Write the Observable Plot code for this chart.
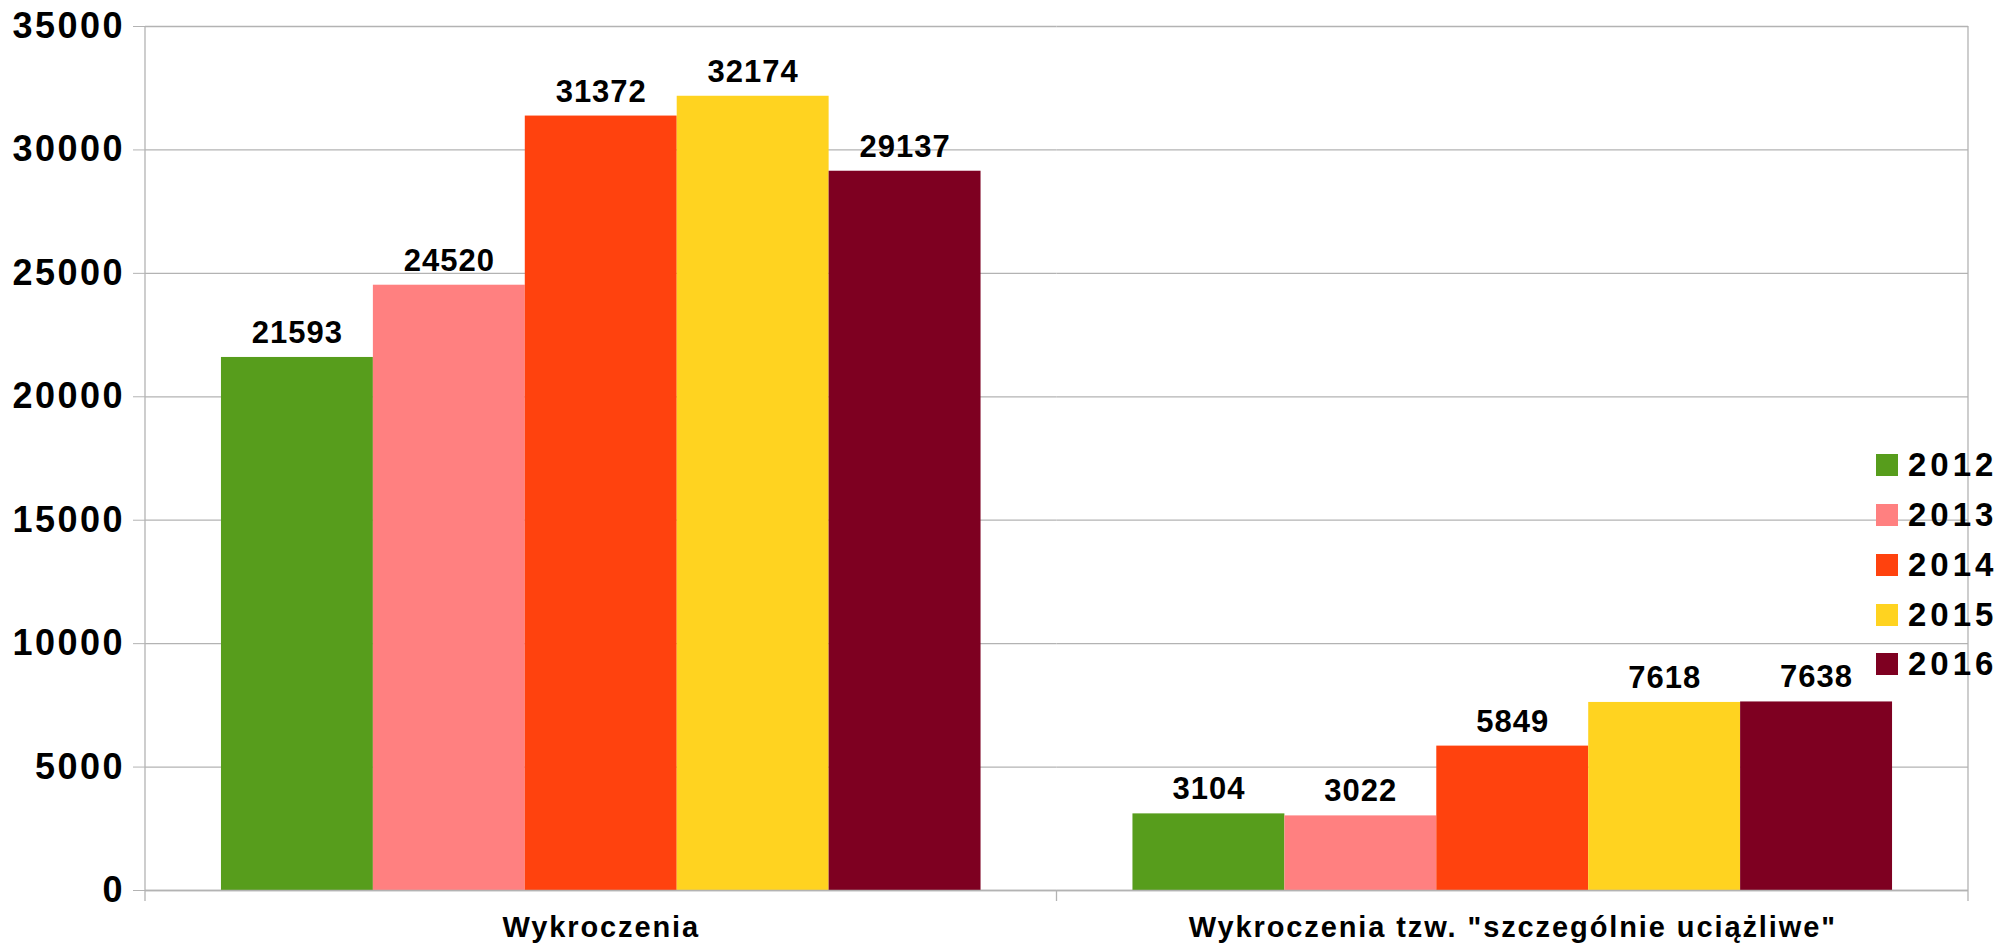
<!DOCTYPE html>
<html><head><meta charset="utf-8">
<script src="https://cdn.jsdelivr.net/npm/d3@7"></script>
<script src="https://cdn.jsdelivr.net/npm/@observablehq/plot@0.6"></script>
<style>
body{margin:0;background:#fff;font-family:"Liberation Sans",Arial,sans-serif}
#wrap{position:relative;width:1999px;height:944px;overflow:hidden}
.item{position:absolute;left:1876px;height:34px;display:flex;align-items:center;white-space:nowrap;font-weight:bold;font-size:33px;letter-spacing:4px;color:#000}
.sw{width:22px;height:22px;margin-right:10px;flex:none}
g[aria-label="y-axis tick label"] text{letter-spacing:2.5px}
g[aria-label="fx-axis tick label"] text{letter-spacing:1.9px}
g[aria-label="text"] text{letter-spacing:1px}
</style></head>
<body><div id="wrap"></div>
<script>
const categories = ["Wykroczenia", "Wykroczenia tzw. \"szczególnie uciążliwe\""];
const years = ["2012", "2013", "2014", "2015", "2016"];
const v2012 = [21593, 3104];
const v2013 = [24520, 3022];
const v2014 = [31372, 5849];
const v2015 = [32174, 7618];
const v2016 = [29137, 7638];
const yTicks = [0, 5000, 10000, 15000, 20000, 25000, 30000, 35000];
const colors = ["#579D1C", "#FF8080", "#FF420E", "#FFD320", "#7E0021"];

const series = [v2012, v2013, v2014, v2015, v2016];
const rows = [];
categories.forEach((c, i) => years.forEach((yr, j) => rows.push({category: c, year: yr, value: series[j][i]})));

const grey = "#b3b3b3";
const chart = Plot.plot({
  width: 1999, height: 944,
  marginLeft: 145, marginRight: 31, marginTop: 26, marginBottom: 54,
  style: {fontFamily: "'Liberation Sans', Arial, sans-serif", background: "#fff", color: "black"},
  fx: {domain: categories, padding: 0, label: null, round: false},
  x: {domain: years, paddingInner: 0, paddingOuter: 0.5, round: false, axis: null},
  y: {domain: [0, 35000]},
  color: {domain: years, range: colors},
  marks: [
    Plot.gridY(yTicks, {stroke: grey, strokeOpacity: 1, strokeWidth: 1.3}),
    Plot.barY(rows, {fx: "category", x: "year", y: "value", fill: "year"}),
    Plot.text(rows, {fx: "category", x: "year", y: "value", text: d => String(d.value), lineAnchor: "bottom", dy: -14.5, fontSize: 31, fontWeight: "bold", fill: "black"}),
    Plot.axisY(yTicks, {tickSize: 12, tickPadding: 8.5, stroke: grey, fill: "black", fontSize: 36, fontWeight: "bold", tickFormat: d => String(d), label: null}),
    Plot.axisFx({anchor: "bottom", tickSize: 0, tickPadding: 26, fontSize: 29, fontWeight: "bold", label: null}),
    Plot.ruleY([0], {stroke: grey, strokeWidth: 1.3})
  ]
});

// frame lines and category boundary ticks, positioned via the plot's scales
const fxS = chart.scale("fx"), yS = chart.scale("y");
const y0 = yS.apply(0), yT = yS.apply(35000);
const left = fxS.apply(categories[0]);
const mid = fxS.apply(categories[1]);
const right = mid + fxS.bandwidth;
const g = d3.select(chart).append("g").attr("stroke", grey).attr("stroke-width", 1.3);
[[left, yT, y0 + 11], [mid, y0, y0 + 11], [right, yT, y0 + 11]].forEach(([x, a, b]) => {
  g.append("line").attr("x1", x).attr("x2", x).attr("y1", a).attr("y2", b);
});

const wrap = document.getElementById("wrap");
wrap.appendChild(chart);

const centers = [465, 515, 565, 615, 664];
years.forEach((yr, i) => {
  const it = document.createElement("div");
  it.className = "item";
  it.style.top = (centers[i] - 17) + "px";
  const sw = document.createElement("div");
  sw.className = "sw";
  sw.style.background = colors[i];
  it.appendChild(sw);
  it.appendChild(document.createTextNode(yr));
  wrap.appendChild(it);
});
</script>
</body></html>
